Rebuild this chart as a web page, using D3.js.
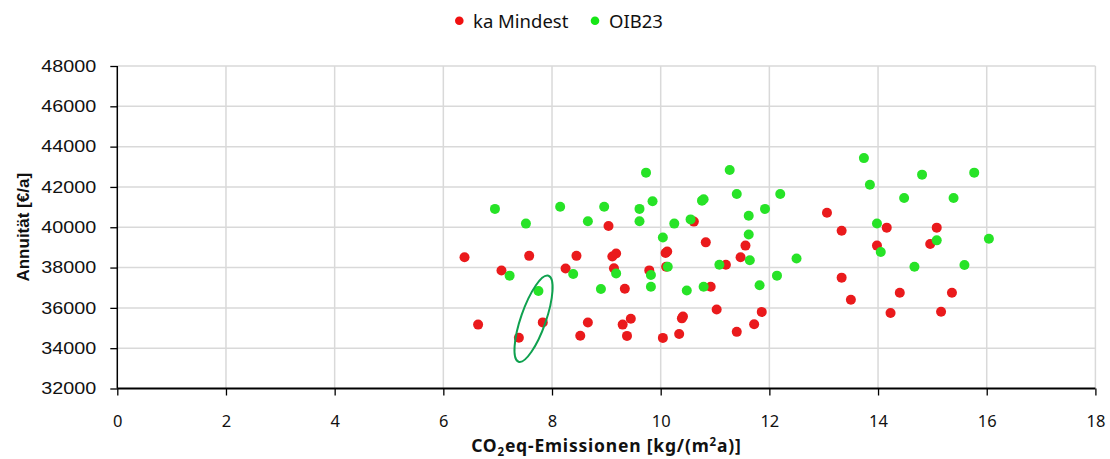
<!DOCTYPE html>
<html>
<head>
<meta charset="utf-8">
<script src="https://cdn.jsdelivr.net/npm/d3@7"></script>
<style>
  html, body { margin: 0; padding: 0; background: #fff; }
  svg { display: block; }
</style>
</head>
<body>
<svg id="chart" width="1110" height="459"></svg>
<script>
// Series: CO2eq emissions [kg/(m²a)] and annuity [€/a]
const seriesNames = ["ka Mindest", "OIB23"];
const seriesColors = ["#ea1a1c", "#27e327"];

const kaMindestX = [6.39, 6.64, 7.07, 7.58, 7.83, 7.39, 8.25, 8.45, 8.52, 8.66, 9.04, 9.11, 9.18, 9.14, 9.30, 9.45, 9.38, 9.34, 9.79, 10.04, 10.09, 10.12, 10.10, 10.34, 10.39, 10.41, 10.61, 10.83, 10.92, 11.03, 11.20, 11.40, 11.47, 11.56, 11.72, 11.86, 13.06, 13.33, 13.33, 13.50, 13.98, 14.16, 14.23, 14.40, 14.96, 15.08, 15.16, 15.36];
const kaMindestY = [38510, 35170, 37850, 38580, 35280, 34520, 37950, 38580, 34620, 35270, 40060, 38550, 38700, 37960, 35170, 35460, 34610, 36950, 37860, 34510, 38720, 38800, 38040, 34700, 35480, 35570, 40280, 39250, 37050, 35920, 38140, 34810, 38510, 39090, 35190, 35800, 40720, 39830, 37500, 36400, 39090, 39980, 35750, 36750, 39170, 39980, 35810, 36750];

const oib23X = [6.95, 7.22, 7.52, 7.75, 8.15, 8.39, 8.66, 8.90, 8.96, 9.18, 9.61, 9.61, 9.73, 9.82, 9.82, 9.85, 10.04, 10.13, 10.25, 10.48, 10.55, 10.76, 10.79, 10.79, 11.08, 11.27, 11.40, 11.62, 11.62, 11.64, 11.82, 11.92, 12.14, 12.20, 12.50, 13.74, 13.85, 13.98, 14.05, 14.48, 14.67, 14.81, 15.08, 15.39, 15.59, 15.77, 16.04];
const oib23Y = [40910, 37600, 40180, 36840, 41020, 37680, 40300, 36940, 41020, 37710, 40910, 40300, 42710, 37630, 37050, 41290, 39490, 38040, 40180, 36860, 40390, 41320, 41390, 37050, 38140, 42840, 41650, 40570, 39640, 38360, 37120, 40910, 37600, 41650, 38450, 43430, 42110, 40190, 38770, 41450, 38040, 42610, 39350, 41450, 38130, 42710, 39430];

const xTicks = [0, 2, 4, 6, 8, 10, 12, 14, 16, 18];
const yTicks = [32000, 34000, 36000, 38000, 40000, 42000, 44000, 46000, 48000];

// Highlighted group (ellipse): centre, semi-axes in px, rotation in degrees
const highlight = { x: 7.66, y: 35460, rx: 12.5, ry: 45.5, angle: 19.2 };

const svg = d3.select("#chart");
const plot = { left: 117.3, right: 1095.4, top: 66, bottom: 388.5 };

const x = d3.scaleLinear().domain([0, 18]).range([plot.left, plot.right]);
const y = d3.scaleLinear().domain([32000, 48000]).range([plot.bottom, plot.top]);

// Gridlines
const grid = svg.append("g").attr("class", "grid");
grid.selectAll("line.h").data(yTicks.slice(1)).join("line")
  .attr("x1", plot.left).attr("x2", plot.right)
  .attr("y1", d => y(d)).attr("y2", d => y(d))
  .attr("stroke", "#d9d9d9").attr("stroke-width", 1.5);
grid.selectAll("line.v").data(xTicks.slice(1)).join("line")
  .attr("y1", plot.top).attr("y2", plot.bottom)
  .attr("x1", d => x(d)).attr("x2", d => x(d))
  .attr("stroke", "#d9d9d9").attr("stroke-width", 1.5);

// Axes
const yAxis = svg.append("g")
  .attr("transform", `translate(${plot.left},0)`)
  .call(d3.axisLeft(y).tickValues(yTicks).tickSize(7).tickPadding(14).tickFormat(d3.format("d")));
yAxis.select(".domain").attr("stroke", "#000").attr("stroke-width", 1.5).attr("d", `M0,${plot.bottom}V${plot.top}`);
yAxis.selectAll(".tick line").attr("stroke", "#000").attr("stroke-width", 1.3);
yAxis.selectAll(".tick text")
  .attr("font-family", "'Liberation Sans', Arial, sans-serif")
  .attr("font-size", 16.5).attr("fill", "#111")
  .attr("textLength", 55).attr("lengthAdjust", "spacingAndGlyphs");

const xAxis = svg.append("g")
  .attr("transform", `translate(0,${plot.bottom})`)
  .call(d3.axisBottom(x).tickValues(xTicks).tickSize(7).tickPadding(20).tickFormat(d3.format("d")));
xAxis.select(".domain").attr("stroke", "#000").attr("stroke-width", 1.8).attr("d", `M${plot.left},0H${plot.right}`);
xAxis.selectAll(".tick line").attr("stroke", "#000").attr("stroke-width", 1.3);
xAxis.selectAll(".tick text")
  .attr("font-family", "'Noto Sans', 'Open Sans', sans-serif")
  .attr("font-size", 16.5).attr("fill", "#111");

// Points
const kaMindest = kaMindestX.map((v, i) => [v, kaMindestY[i]]);
const oib23 = oib23X.map((v, i) => [v, oib23Y[i]]);
[kaMindest, oib23].forEach((data, k) => {
  svg.append("g").selectAll("circle").data(data).join("circle")
    .attr("cx", d => x(d[0])).attr("cy", d => y(d[1]))
    .attr("r", 5).attr("fill", seriesColors[k]);
});

// Ellipse marking the group near 7.7 kg/(m²a)
svg.append("ellipse")
  .attr("transform", `translate(${x(highlight.x)},${y(highlight.y)}) rotate(${highlight.angle})`)
  .attr("rx", highlight.rx).attr("ry", highlight.ry)
  .attr("fill", "none").attr("stroke", "#0fa14f").attr("stroke-width", 2);

// Axis titles
svg.append("text")
  .attr("transform", `translate(29,${(plot.top + plot.bottom) / 2}) rotate(-90)`)
  .attr("text-anchor", "middle")
  .attr("font-family", "'Liberation Sans', Arial, sans-serif")
  .attr("font-weight", "bold").attr("font-size", 17).attr("fill", "#111")
  .text("Annuität [€/a]");

const xt = svg.append("text")
  .attr("x", (plot.left + plot.right) / 2).attr("y", 452)
  .attr("text-anchor", "middle")
  .attr("font-family", "'Noto Sans', 'Open Sans', sans-serif")
  .attr("font-weight", "bold").attr("font-size", 17.5).attr("letter-spacing", 0.8).attr("fill", "#111");
xt.append("tspan").text("CO");
xt.append("tspan").attr("font-size", 11.5).attr("dy", 4).text("2");
xt.append("tspan").attr("dy", -4).text("eq-Emissionen [kg/(m");
xt.append("tspan").attr("font-size", 11.5).attr("dy", -6).text("2");
xt.append("tspan").attr("dy", 6).text("a)]");

// Legend
const legend = svg.append("g");
const legendItems = [{ cx: 459.3, tx: 473 }, { cx: 595, tx: 609 }];
legendItems.forEach((p, i) => {
  legend.append("circle").attr("cx", p.cx).attr("cy", 20.7).attr("r", 4.3).attr("fill", i ? "#16e616" : "#f01010");
  legend.append("text").attr("x", p.tx).attr("y", 27.5)
    .attr("font-family", "'Noto Sans', 'Open Sans', sans-serif")
    .attr("font-size", 18.5).attr("fill", "#111")
    .text(seriesNames[i]);
});
</script>
</body>
</html>
